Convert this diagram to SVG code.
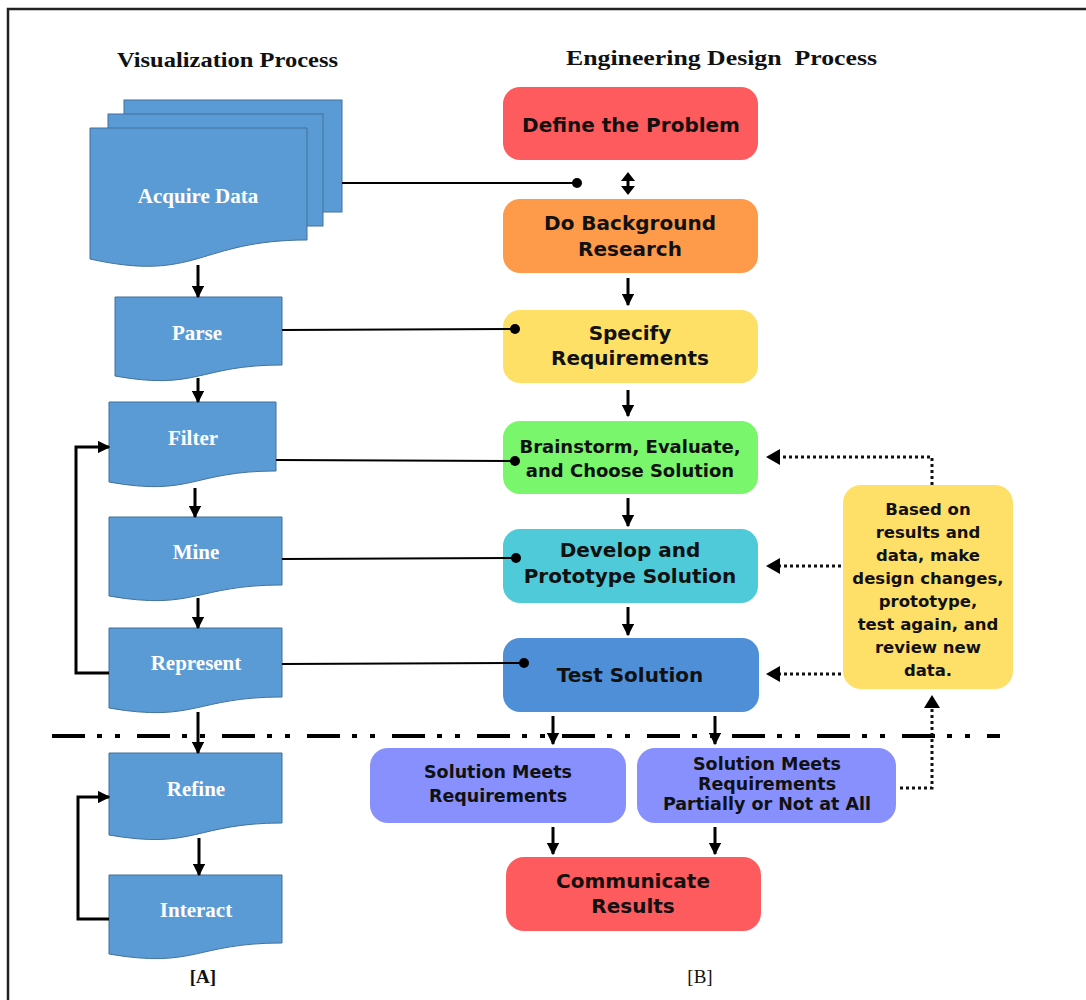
<svg xmlns="http://www.w3.org/2000/svg" width="1086" height="1000" viewBox="0 0 1086 1000">
<defs>
<style>
.doc{fill:#5b9bd5;stroke:#41719c;stroke-width:1}
.dt{font-family:"Liberation Serif","Times New Roman",serif;font-weight:bold;font-size:21px;fill:#ffffff;text-anchor:middle}
.ttl{font-family:"Liberation Serif","Times New Roman",serif;font-weight:bold;font-size:22px;fill:#111}
.bt{font-family:"DejaVu Sans","Verdana",sans-serif;font-weight:bold;fill:#111;text-anchor:middle}
.ln{stroke:#000;stroke-width:2;fill:none}
.ar{stroke:#000;stroke-width:3;fill:none}
.dot{stroke:#111;stroke-width:3;fill:none;stroke-dasharray:3 3}
.lab{font-family:"Liberation Serif","Times New Roman",serif;font-size:19px;fill:#111;text-anchor:middle}
</style>
<marker id="ah" viewBox="0 0 10 10" refX="9" refY="5" markerWidth="4.2" markerHeight="4.2" orient="auto-start-reverse" markerUnits="strokeWidth">
<path d="M0,0 L10,5 L0,10 Z" fill="#000"/>
</marker>
</defs>
<rect x="0" y="0" width="1086" height="1000" fill="#ffffff"/>
<path d="M8,1000 V9 H1086" fill="none" stroke="#222" stroke-width="2.5"/>

<text class="ttl" x="117" y="67" textLength="221" lengthAdjust="spacingAndGlyphs">Visualization Process</text>
<text class="ttl" x="566" y="65" textLength="311" lengthAdjust="spacingAndGlyphs" xml:space="preserve">Engineering Design  Process</text>

<g id="acquire">
<rect class="doc" x="124" y="100" width="218" height="112"/>
<rect class="doc" x="108" y="114" width="215" height="112"/>
<path class="doc" d="M90,128 H307 V240 C198,240 198,283 90,259 Z"/>
<text class="dt" x="198" y="203">Acquire Data</text>
</g>
<g id="parse">
<path class="doc" d="M115,297 H282 V365 C198,365 198,391 115,376 Z"/>
<text class="dt" x="197" y="340">Parse</text>
</g>
<g id="filter">
<path class="doc" d="M109,402 H276 V471 C192,471 192,497 109,482 Z"/>
<text class="dt" x="193" y="445">Filter</text>
</g>
<g id="mine">
<path class="doc" d="M109,517 H282 V585 C195,585 195,611 109,596 Z"/>
<text class="dt" x="196" y="559">Mine</text>
</g>
<g id="represent">
<path class="doc" d="M109,628 H282 V697 C195,697 195,723 109,708 Z"/>
<text class="dt" x="196" y="670">Represent</text>
</g>
<g id="refine">
<path class="doc" d="M109,753 H282 V823 C195,823 195,850 109,835 Z"/>
<text class="dt" x="196" y="796">Refine</text>
</g>
<g id="interact">
<path class="doc" d="M109,875 H282 V943 C195,943 195,969 109,954 Z"/>
<text class="dt" x="196" y="917">Interact</text>
</g>
<text class="lab" x="203" y="983" font-weight="bold">[A]</text>
<text class="lab" x="700" y="983">[B]</text>

<g id="define">
<rect x="503" y="87" width="255" height="73" rx="17" fill="#fe5b5e"/>
<text class="bt" font-size="20" x="631" y="132">Define the Problem</text>
</g>
<g id="background">
<rect x="503" y="199" width="255" height="74" rx="17" fill="#fd9b4b"/>
<text class="bt" font-size="20" x="630" y="230">Do Background</text>
<text class="bt" font-size="20" x="630" y="256">Research</text>
</g>
<g id="specify">
<rect x="503" y="310" width="255" height="73" rx="17" fill="#fee066"/>
<text class="bt" font-size="20" x="630" y="340">Specify</text>
<text class="bt" font-size="20" x="630" y="365">Requirements</text>
</g>
<g id="brainstorm">
<rect x="503" y="421" width="255" height="73" rx="17" fill="#79f66b"/>
<text class="bt" font-size="18" x="630" y="453">Brainstorm, Evaluate,</text>
<text class="bt" font-size="18" x="630" y="477">and Choose Solution</text>
</g>
<g id="develop">
<rect x="503" y="529" width="255" height="74" rx="17" fill="#4ecad8"/>
<text class="bt" font-size="20" x="630" y="557">Develop and</text>
<text class="bt" font-size="20" x="630" y="583">Prototype Solution</text>
</g>
<g id="test">
<rect x="503" y="638" width="256" height="74" rx="17" fill="#4e8fd8"/>
<text class="bt" font-size="20" x="630" y="682">Test Solution</text>
</g>
<g id="based">
<rect x="843" y="485" width="170" height="204" rx="18" fill="#fee068"/>
<text class="bt" font-size="16.5" x="928" y="515">Based on</text>
<text class="bt" font-size="16.5" x="928" y="538">results and</text>
<text class="bt" font-size="16.5" x="928" y="561">data, make</text>
<text class="bt" font-size="16.5" x="928" y="584">design changes,</text>
<text class="bt" font-size="16.5" x="928" y="607">prototype,</text>
<text class="bt" font-size="16.5" x="928" y="630">test again, and</text>
<text class="bt" font-size="16.5" x="928" y="653">review new</text>
<text class="bt" font-size="16.5" x="928" y="676">data.</text>
</g>
<g id="meets">
<rect x="370" y="748" width="256" height="75" rx="18" fill="#8790fd"/>
<text class="bt" font-size="17.5" x="498" y="778">Solution Meets</text>
<text class="bt" font-size="17.5" x="498" y="802">Requirements</text>
</g>
<g id="partial">
<rect x="637" y="748" width="259" height="75" rx="18" fill="#8790fd"/>
<text class="bt" font-size="17.5" x="767" y="770">Solution Meets</text>
<text class="bt" font-size="17.5" x="767" y="790">Requirements</text>
<text class="bt" font-size="17.5" x="767" y="810">Partially or Not at All</text>
</g>
<g id="communicate">
<rect x="506" y="857" width="255" height="74" rx="18" fill="#fe5b5e"/>
<text class="bt" font-size="20" x="633" y="888">Communicate</text>
<text class="bt" font-size="20" x="633" y="913">Results</text>
</g>

<g id="connectors">
<line class="ln" x1="342" y1="183" x2="577" y2="183"/>
<circle cx="577" cy="183" r="5" fill="#000"/>
<line class="ln" x1="282" y1="330" x2="515" y2="329"/>
<circle cx="515" cy="329" r="5" fill="#000"/>
<line class="ln" x1="276" y1="460" x2="515" y2="461"/>
<circle cx="515" cy="461" r="5" fill="#000"/>
<line class="ln" x1="282" y1="559" x2="516" y2="558"/>
<circle cx="516" cy="558" r="5" fill="#000"/>
<line class="ln" x1="282" y1="664" x2="524" y2="663"/>
<circle cx="524" cy="663" r="5" fill="#000"/>

<line class="ar" x1="198" y1="265" x2="198" y2="297" marker-end="url(#ah)"/>
<line class="ar" x1="198" y1="378" x2="198" y2="402" marker-end="url(#ah)"/>
<line class="ar" x1="195" y1="488" x2="195" y2="517" marker-end="url(#ah)"/>
<line class="ar" x1="198" y1="598" x2="198" y2="628" marker-end="url(#ah)"/>
<line class="ar" x1="198" y1="712" x2="198" y2="753" marker-end="url(#ah)"/>
<line class="ar" x1="199" y1="838" x2="199" y2="875" marker-end="url(#ah)"/>
<polyline class="ar" points="109,673 76,673 76,447 109,447" marker-end="url(#ah)"/>
<polyline class="ar" points="109,919 78,919 78,797 109,797" marker-end="url(#ah)"/>

<line stroke="#000" stroke-width="4" x1="52" y1="736" x2="1000" y2="736" stroke-dasharray="33 12 5 13 5 17"/>

<line stroke="#000" stroke-width="3" x1="628" y1="180" x2="628" y2="188"/>
<path d="M628,172 L621,181 L635,181 Z" fill="#000"/>
<path d="M628,195 L621,186 L635,186 Z" fill="#000"/>
<line class="ar" x1="628" y1="278" x2="628" y2="305" marker-end="url(#ah)"/>
<line class="ar" x1="628" y1="390" x2="628" y2="416" marker-end="url(#ah)"/>
<line class="ar" x1="628" y1="498" x2="628" y2="526" marker-end="url(#ah)"/>
<line class="ar" x1="628" y1="607" x2="628" y2="635" marker-end="url(#ah)"/>
<line class="ar" x1="553" y1="716" x2="553" y2="744" marker-end="url(#ah)"/>
<line class="ar" x1="715" y1="716" x2="715" y2="744" marker-end="url(#ah)"/>
<line class="ar" x1="553" y1="827" x2="553" y2="854" marker-end="url(#ah)"/>
<line class="ar" x1="715" y1="827" x2="715" y2="854" marker-end="url(#ah)"/>

<polyline class="dot" points="932,485 932,457 778,457"/>
<path d="M766,457 L780,449 L780,465 Z" fill="#000"/>
<line class="dot" x1="841" y1="566" x2="778" y2="566"/>
<path d="M766,566 L780,558 L780,574 Z" fill="#000"/>
<line class="dot" x1="841" y1="674" x2="778" y2="674"/>
<path d="M766,674 L780,666 L780,682 Z" fill="#000"/>
<polyline class="dot" points="900,788 932,788 932,707"/>
<path d="M932,695 L924,708 L940,708 Z" fill="#000"/>
</g>
</svg>
